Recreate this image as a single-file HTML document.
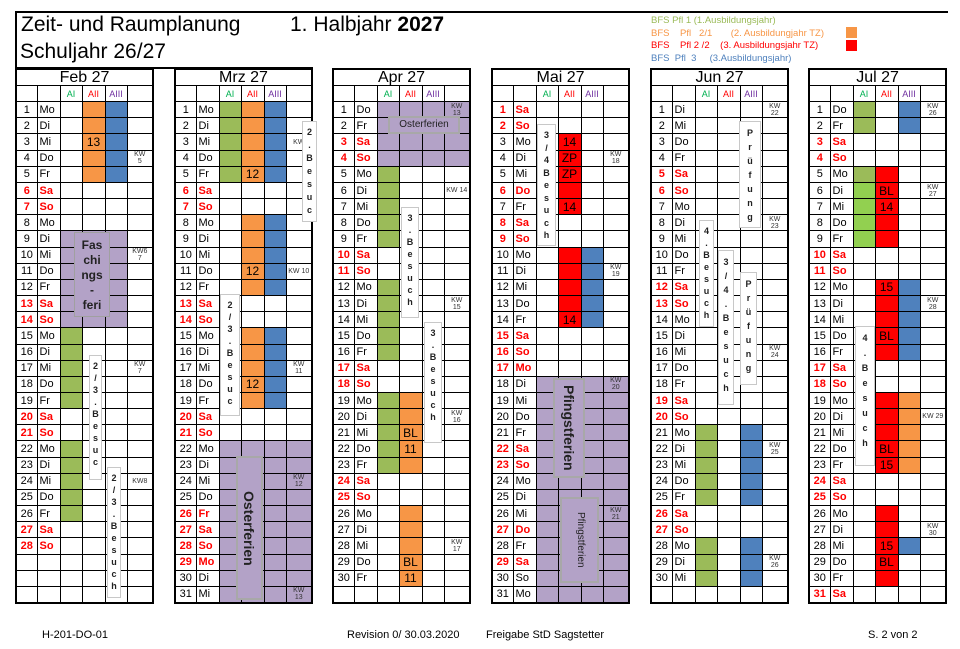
<!DOCTYPE html>
<html><head><meta charset="utf-8">
<style>
body{margin:0;width:960px;height:649px;background:#fff;position:relative;overflow:hidden;font-family:"Liberation Sans",sans-serif}
.a{position:absolute}
table{position:absolute;top:68px;border-collapse:collapse;table-layout:fixed;width:137px;font:11px "Liberation Sans",sans-serif;border:2px solid #000}
td{border:1px solid #000;padding:0;height:15px;line-height:12px;overflow:hidden;white-space:nowrap;text-align:center}
tr{height:16.16px}
td:nth-child(2){text-align:left;padding-left:2px}
tr.h td{font-size:16px;line-height:15px;text-align:center;padding:0}
tr.s td{font-size:9px;height:15px}
.ga{color:#00b050}.ra{color:#ff0000}.pa{color:#7030a0}
tr.w td{color:#ff0000;font-weight:bold}
.g{background:#9bbb59}.gl{background:#92d050}.o{background:#f79646}.b{background:#4f81bd}.r{background:#ff0000}.p{background:#b3a2c7}
td.o,td.r{font-size:12px;color:#000}
.k{font-size:7px;line-height:7px;color:#333}
.v{position:absolute;background:#fff;border:1px solid #c8c8c8;font:bold 9px "Liberation Sans",sans-serif;text-align:center;padding-top:4px;box-sizing:border-box;color:#222}
.rot{position:absolute;background:#b3a2c7;border:2px solid #a8a8a8;writing-mode:vertical-rl;text-align:center;font:bold 14px "Liberation Sans",sans-serif;color:#222;box-sizing:border-box;line-height:24px}
</style></head><body>
<div class="a" style="left:15px;top:11px;width:933px;height:2px;background:#000"></div>
<div class="a" style="left:15px;top:11px;width:2px;height:58px;background:#000"></div>
<div class="a" style="left:15px;top:67px;width:298px;height:2px;background:#000"></div>
<div class="a" style="left:21px;top:13px;font-size:21px">Zeit- und Raumplanung</div>
<div class="a" style="left:290px;top:13px;font-size:21px">1. Halbjahr <b>2027</b></div>
<div class="a" style="left:20px;top:40px;font-size:21px">Schuljahr 26/27</div>
<div class="a" style="left:651px;top:15px;font-size:9.5px;line-height:12.7px;white-space:pre"><span style="color:#9bbb59">BFS Pfl 1 (1.Ausbildungsjahr)</span>
<span style="color:#f79646">BFS    Pfl   2/1       (2. Ausbildungjahr TZ)</span>
<span style="color:#ff0000">BFS    Pfl 2 /2    (3. Ausbildungsjahr TZ)</span>
<span style="color:#4f81bd">BFS  Pfl  3     (3.Ausbildungsjahr)</span></div>
<div class="a" style="left:846px;top:27px;width:11px;height:11px;background:#f79646"></div>
<div class="a" style="left:846px;top:40px;width:11px;height:11px;background:#ff0000"></div>

<!-- FEB -->
<table style="left:15px"><colgroup><col style="width:21px"><col style="width:23px"><col style="width:22px"><col style="width:23px"><col style="width:22px"><col style="width:26px"></colgroup>
<tr class="h"><td colspan="6">Feb 27</td></tr>
<tr class="s"><td></td><td></td><td class="ga">AI</td><td class="ra">AII</td><td class="pa">AIII</td><td></td></tr>
<tr><td>1</td><td>Mo</td><td></td><td class="o"></td><td class="b"></td><td></td></tr>
<tr><td>2</td><td>Di</td><td></td><td class="o"></td><td class="b"></td><td></td></tr>
<tr><td>3</td><td>Mi</td><td></td><td class="o">13</td><td class="b"></td><td></td></tr>
<tr><td>4</td><td>Do</td><td></td><td class="o"></td><td class="b"></td><td class="k">KW<br>5</td></tr>
<tr><td>5</td><td>Fr</td><td></td><td class="o"></td><td class="b"></td><td></td></tr>
<tr class="w"><td>6</td><td>Sa</td><td></td><td></td><td></td><td></td></tr>
<tr class="w"><td>7</td><td>So</td><td></td><td></td><td></td><td></td></tr>
<tr><td>8</td><td>Mo</td><td></td><td></td><td></td><td></td></tr>
<tr><td>9</td><td>Di</td><td class="p"></td><td class="p"></td><td class="p"></td><td></td></tr>
<tr><td>10</td><td>Mi</td><td class="p"></td><td class="p"></td><td class="p"></td><td class="k">KW6<br>7</td></tr>
<tr><td>11</td><td>Do</td><td class="p"></td><td class="p"></td><td class="p"></td><td></td></tr>
<tr><td>12</td><td>Fr</td><td class="p"></td><td class="p"></td><td class="p"></td><td></td></tr>
<tr class="w"><td>13</td><td>Sa</td><td class="p"></td><td class="p"></td><td class="p"></td><td></td></tr>
<tr class="w"><td>14</td><td>So</td><td class="p"></td><td class="p"></td><td class="p"></td><td></td></tr>
<tr><td>15</td><td>Mo</td><td class="g"></td><td></td><td></td><td></td></tr>
<tr><td>16</td><td>Di</td><td class="g"></td><td></td><td></td><td></td></tr>
<tr><td>17</td><td>Mi</td><td class="g"></td><td></td><td></td><td class="k">KW<br>7</td></tr>
<tr><td>18</td><td>Do</td><td class="g"></td><td></td><td></td><td></td></tr>
<tr><td>19</td><td>Fr</td><td class="g"></td><td></td><td></td><td></td></tr>
<tr class="w"><td>20</td><td>Sa</td><td></td><td></td><td></td><td></td></tr>
<tr class="w"><td>21</td><td>So</td><td></td><td></td><td></td><td></td></tr>
<tr><td>22</td><td>Mo</td><td class="g"></td><td></td><td></td><td></td></tr>
<tr><td>23</td><td>Di</td><td class="g"></td><td></td><td></td><td></td></tr>
<tr><td>24</td><td>Mi</td><td class="g"></td><td></td><td></td><td class="k">KW8</td></tr>
<tr><td>25</td><td>Do</td><td class="g"></td><td></td><td></td><td></td></tr>
<tr><td>26</td><td>Fr</td><td class="g"></td><td></td><td></td><td></td></tr>
<tr class="w"><td>27</td><td>Sa</td><td></td><td></td><td></td><td></td></tr>
<tr class="w"><td>28</td><td>So</td><td></td><td></td><td></td><td></td></tr>
<tr><td></td><td></td><td></td><td></td><td></td><td></td></tr>
<tr><td></td><td></td><td></td><td></td><td></td><td></td></tr>
<tr><td></td><td></td><td></td><td></td><td></td><td></td></tr>
</table>

<!-- MRZ -->
<table style="left:174px"><colgroup><col style="width:21px"><col style="width:23px"><col style="width:22px"><col style="width:23px"><col style="width:22px"><col style="width:26px"></colgroup>
<tr class="h"><td colspan="6">Mrz 27</td></tr>
<tr class="s"><td></td><td></td><td class="ga">AI</td><td class="ra">AII</td><td class="pa">AIII</td><td></td></tr>
<tr><td>1</td><td>Mo</td><td class="g"></td><td class="o"></td><td class="b"></td><td></td></tr>
<tr><td>2</td><td>Di</td><td class="g"></td><td class="o"></td><td class="b"></td><td></td></tr>
<tr><td>3</td><td>Mi</td><td class="g"></td><td class="o"></td><td class="b"></td><td class="k">KW</td></tr>
<tr><td>4</td><td>Do</td><td class="g"></td><td class="o"></td><td class="b"></td><td></td></tr>
<tr><td>5</td><td>Fr</td><td class="g"></td><td class="o">12</td><td class="b"></td><td></td></tr>
<tr class="w"><td>6</td><td>Sa</td><td></td><td></td><td></td><td></td></tr>
<tr class="w"><td>7</td><td>So</td><td></td><td></td><td></td><td></td></tr>
<tr><td>8</td><td>Mo</td><td></td><td class="o"></td><td class="b"></td><td></td></tr>
<tr><td>9</td><td>Di</td><td></td><td class="o"></td><td class="b"></td><td></td></tr>
<tr><td>10</td><td>Mi</td><td></td><td class="o"></td><td class="b"></td><td></td></tr>
<tr><td>11</td><td>Do</td><td></td><td class="o">12</td><td class="b"></td><td class="k">KW 10</td></tr>
<tr><td>12</td><td>Fr</td><td></td><td class="o"></td><td class="b"></td><td></td></tr>
<tr class="w"><td>13</td><td>Sa</td><td></td><td></td><td></td><td></td></tr>
<tr class="w"><td>14</td><td>So</td><td></td><td></td><td></td><td></td></tr>
<tr><td>15</td><td>Mo</td><td></td><td class="o"></td><td class="b"></td><td></td></tr>
<tr><td>16</td><td>Di</td><td></td><td class="o"></td><td class="b"></td><td></td></tr>
<tr><td>17</td><td>Mi</td><td></td><td class="o"></td><td class="b"></td><td class="k">KW<br>11</td></tr>
<tr><td>18</td><td>Do</td><td></td><td class="o">12</td><td class="b"></td><td></td></tr>
<tr><td>19</td><td>Fr</td><td></td><td class="o"></td><td class="b"></td><td></td></tr>
<tr class="w"><td>20</td><td>Sa</td><td></td><td></td><td></td><td></td></tr>
<tr class="w"><td>21</td><td>So</td><td></td><td></td><td></td><td></td></tr>
<tr><td>22</td><td>Mo</td><td class="p"></td><td class="p"></td><td class="p"></td><td class="p"></td></tr>
<tr><td>23</td><td>Di</td><td class="p"></td><td class="p"></td><td class="p"></td><td class="p"></td></tr>
<tr><td>24</td><td>Mi</td><td class="p"></td><td class="p"></td><td class="p"></td><td class="p k">KW<br>12</td></tr>
<tr><td>25</td><td>Do</td><td class="p"></td><td class="p"></td><td class="p"></td><td class="p"></td></tr>
<tr class="w"><td>26</td><td>Fr</td><td class="p"></td><td class="p"></td><td class="p"></td><td class="p"></td></tr>
<tr class="w"><td>27</td><td>Sa</td><td class="p"></td><td class="p"></td><td class="p"></td><td class="p"></td></tr>
<tr class="w"><td>28</td><td>So</td><td class="p"></td><td class="p"></td><td class="p"></td><td class="p"></td></tr>
<tr class="w"><td>29</td><td>Mo</td><td class="p"></td><td class="p"></td><td class="p"></td><td class="p"></td></tr>
<tr><td>30</td><td>Di</td><td class="p"></td><td class="p"></td><td class="p"></td><td class="p"></td></tr>
<tr><td>31</td><td>Mi</td><td class="p"></td><td class="p"></td><td class="p"></td><td class="p k">KW<br>13</td></tr>
</table>

<!-- APR -->
<table style="left:332px"><colgroup><col style="width:21px"><col style="width:23px"><col style="width:22px"><col style="width:23px"><col style="width:22px"><col style="width:26px"></colgroup>
<tr class="h"><td colspan="6">Apr 27</td></tr>
<tr class="s"><td></td><td></td><td class="ga">AI</td><td class="ra">AII</td><td class="pa">AIII</td><td></td></tr>
<tr><td>1</td><td>Do</td><td class="p"></td><td class="p"></td><td class="p"></td><td class="p k">KW<br>13</td></tr>
<tr><td>2</td><td>Fr</td><td class="p"></td><td class="p"></td><td class="p"></td><td class="p"></td></tr>
<tr class="w"><td>3</td><td>Sa</td><td class="p"></td><td class="p"></td><td class="p"></td><td class="p"></td></tr>
<tr class="w"><td>4</td><td>So</td><td class="p"></td><td class="p"></td><td class="p"></td><td class="p"></td></tr>
<tr><td>5</td><td>Mo</td><td class="g"></td><td></td><td></td><td></td></tr>
<tr><td>6</td><td>Di</td><td class="g"></td><td></td><td></td><td class="k">KW 14</td></tr>
<tr><td>7</td><td>Mi</td><td class="g"></td><td></td><td></td><td></td></tr>
<tr><td>8</td><td>Do</td><td class="g"></td><td></td><td></td><td></td></tr>
<tr><td>9</td><td>Fr</td><td class="g"></td><td></td><td></td><td></td></tr>
<tr class="w"><td>10</td><td>Sa</td><td></td><td></td><td></td><td></td></tr>
<tr class="w"><td>11</td><td>So</td><td></td><td></td><td></td><td></td></tr>
<tr><td>12</td><td>Mo</td><td class="g"></td><td></td><td></td><td></td></tr>
<tr><td>13</td><td>Di</td><td class="g"></td><td></td><td></td><td class="k">KW<br>15</td></tr>
<tr><td>14</td><td>Mi</td><td class="g"></td><td></td><td></td><td></td></tr>
<tr><td>15</td><td>Do</td><td class="g"></td><td></td><td></td><td></td></tr>
<tr><td>16</td><td>Fr</td><td class="g"></td><td></td><td></td><td></td></tr>
<tr class="w"><td>17</td><td>Sa</td><td></td><td></td><td></td><td></td></tr>
<tr class="w"><td>18</td><td>So</td><td></td><td></td><td></td><td></td></tr>
<tr><td>19</td><td>Mo</td><td class="g"></td><td class="o"></td><td></td><td></td></tr>
<tr><td>20</td><td>Di</td><td class="g"></td><td class="o"></td><td></td><td class="k">KW<br>16</td></tr>
<tr><td>21</td><td>Mi</td><td class="g"></td><td class="o">BL</td><td></td><td></td></tr>
<tr><td>22</td><td>Do</td><td class="g"></td><td class="o">11</td><td></td><td></td></tr>
<tr><td>23</td><td>Fr</td><td class="g"></td><td class="o"></td><td></td><td></td></tr>
<tr class="w"><td>24</td><td>Sa</td><td></td><td></td><td></td><td></td></tr>
<tr class="w"><td>25</td><td>So</td><td></td><td></td><td></td><td></td></tr>
<tr><td>26</td><td>Mo</td><td></td><td class="o"></td><td></td><td></td></tr>
<tr><td>27</td><td>Di</td><td></td><td class="o"></td><td></td><td></td></tr>
<tr><td>28</td><td>Mi</td><td></td><td class="o"></td><td></td><td class="k">KW<br>17</td></tr>
<tr><td>29</td><td>Do</td><td></td><td class="o">BL</td><td></td><td></td></tr>
<tr><td>30</td><td>Fr</td><td></td><td class="o">11</td><td></td><td></td></tr>
<tr><td></td><td></td><td></td><td></td><td></td><td></td></tr>
</table>

<!-- MAI -->
<table style="left:491px"><colgroup><col style="width:21px"><col style="width:23px"><col style="width:22px"><col style="width:23px"><col style="width:22px"><col style="width:26px"></colgroup>
<tr class="h"><td colspan="6">Mai 27</td></tr>
<tr class="s"><td></td><td></td><td class="ga">AI</td><td class="ra">AII</td><td class="pa">AIII</td><td></td></tr>
<tr class="w"><td>1</td><td>Sa</td><td></td><td></td><td></td><td></td></tr>
<tr class="w"><td>2</td><td>So</td><td></td><td></td><td></td><td></td></tr>
<tr><td>3</td><td>Mo</td><td></td><td class="r">14</td><td></td><td></td></tr>
<tr><td>4</td><td>Di</td><td></td><td class="r">ZP</td><td></td><td class="k">KW<br>18</td></tr>
<tr><td>5</td><td>Mi</td><td></td><td class="r">ZP</td><td></td><td></td></tr>
<tr class="w"><td>6</td><td>Do</td><td></td><td class="r" style="font-weight:normal">ZP</td><td></td><td></td></tr>
<tr><td>7</td><td>Fr</td><td></td><td class="r">14</td><td></td><td></td></tr>
<tr class="w"><td>8</td><td>Sa</td><td></td><td></td><td></td><td></td></tr>
<tr class="w"><td>9</td><td>So</td><td></td><td></td><td></td><td></td></tr>
<tr><td>10</td><td>Mo</td><td></td><td class="r"></td><td class="b"></td><td></td></tr>
<tr><td>11</td><td>Di</td><td></td><td class="r"></td><td class="b"></td><td class="k">KW<br>19</td></tr>
<tr><td>12</td><td>Mi</td><td></td><td class="r"></td><td class="b"></td><td></td></tr>
<tr><td>13</td><td>Do</td><td></td><td class="r"></td><td class="b"></td><td></td></tr>
<tr><td>14</td><td>Fr</td><td></td><td class="r">14</td><td class="b"></td><td></td></tr>
<tr class="w"><td>15</td><td>Sa</td><td></td><td></td><td></td><td></td></tr>
<tr class="w"><td>16</td><td>So</td><td></td><td></td><td></td><td></td></tr>
<tr class="w"><td>17</td><td>Mo</td><td></td><td></td><td></td><td></td></tr>
<tr><td>18</td><td>Di</td><td class="p"></td><td class="p"></td><td class="p"></td><td class="p k">KW<br>20</td></tr>
<tr><td>19</td><td>Mi</td><td class="p"></td><td class="p"></td><td class="p"></td><td class="p"></td></tr>
<tr><td>20</td><td>Do</td><td class="p"></td><td class="p"></td><td class="p"></td><td class="p"></td></tr>
<tr><td>21</td><td>Fr</td><td class="p"></td><td class="p"></td><td class="p"></td><td class="p"></td></tr>
<tr class="w"><td>22</td><td>Sa</td><td class="p"></td><td class="p"></td><td class="p"></td><td class="p"></td></tr>
<tr class="w"><td>23</td><td>So</td><td class="p"></td><td class="p"></td><td class="p"></td><td class="p"></td></tr>
<tr><td>24</td><td>Mo</td><td class="p"></td><td class="p"></td><td class="p"></td><td class="p"></td></tr>
<tr><td>25</td><td>Di</td><td class="p"></td><td class="p"></td><td class="p"></td><td class="p"></td></tr>
<tr><td>26</td><td>Mi</td><td class="p"></td><td class="p"></td><td class="p"></td><td class="p k">KW<br>21</td></tr>
<tr class="w"><td>27</td><td>Do</td><td class="p"></td><td class="p"></td><td class="p"></td><td class="p"></td></tr>
<tr><td>28</td><td>Fr</td><td class="p"></td><td class="p"></td><td class="p"></td><td class="p"></td></tr>
<tr class="w"><td>29</td><td>Sa</td><td class="p"></td><td class="p"></td><td class="p"></td><td class="p"></td></tr>
<tr><td>30</td><td>So</td><td class="p"></td><td class="p"></td><td class="p"></td><td class="p"></td></tr>
<tr><td>31</td><td>Mo</td><td class="p"></td><td class="p"></td><td class="p"></td><td class="p"></td></tr>
</table>

<!-- JUN -->
<table style="left:650px"><colgroup><col style="width:21px"><col style="width:23px"><col style="width:22px"><col style="width:23px"><col style="width:22px"><col style="width:26px"></colgroup>
<tr class="h"><td colspan="6">Jun 27</td></tr>
<tr class="s"><td></td><td></td><td class="ga">AI</td><td class="ra">AII</td><td class="pa">AIII</td><td></td></tr>
<tr><td>1</td><td>Di</td><td></td><td></td><td></td><td class="k">KW<br>22</td></tr>
<tr><td>2</td><td>Mi</td><td></td><td></td><td></td><td></td></tr>
<tr><td>3</td><td>Do</td><td></td><td></td><td></td><td></td></tr>
<tr><td>4</td><td>Fr</td><td></td><td></td><td></td><td></td></tr>
<tr class="w"><td>5</td><td>Sa</td><td></td><td></td><td></td><td></td></tr>
<tr class="w"><td>6</td><td>So</td><td></td><td></td><td></td><td></td></tr>
<tr><td>7</td><td>Mo</td><td></td><td></td><td></td><td></td></tr>
<tr><td>8</td><td>Di</td><td></td><td></td><td></td><td class="k">KW<br>23</td></tr>
<tr><td>9</td><td>Mi</td><td></td><td></td><td></td><td></td></tr>
<tr><td>10</td><td>Do</td><td></td><td></td><td></td><td></td></tr>
<tr><td>11</td><td>Fr</td><td></td><td></td><td></td><td></td></tr>
<tr class="w"><td>12</td><td>Sa</td><td></td><td></td><td></td><td></td></tr>
<tr class="w"><td>13</td><td>So</td><td></td><td></td><td></td><td></td></tr>
<tr><td>14</td><td>Mo</td><td></td><td></td><td></td><td></td></tr>
<tr><td>15</td><td>Di</td><td></td><td></td><td></td><td></td></tr>
<tr><td>16</td><td>Mi</td><td></td><td></td><td></td><td class="k">KW<br>24</td></tr>
<tr><td>17</td><td>Do</td><td></td><td></td><td></td><td></td></tr>
<tr><td>18</td><td>Fr</td><td></td><td></td><td></td><td></td></tr>
<tr class="w"><td>19</td><td>Sa</td><td></td><td></td><td></td><td></td></tr>
<tr class="w"><td>20</td><td>So</td><td></td><td></td><td></td><td></td></tr>
<tr><td>21</td><td>Mo</td><td class="g"></td><td></td><td class="b"></td><td></td></tr>
<tr><td>22</td><td>Di</td><td class="g"></td><td></td><td class="b"></td><td class="k">KW<br>25</td></tr>
<tr><td>23</td><td>Mi</td><td class="g"></td><td></td><td class="b"></td><td></td></tr>
<tr><td>24</td><td>Do</td><td class="g"></td><td></td><td class="b"></td><td></td></tr>
<tr><td>25</td><td>Fr</td><td class="g"></td><td></td><td class="b"></td><td></td></tr>
<tr class="w"><td>26</td><td>Sa</td><td></td><td></td><td></td><td></td></tr>
<tr class="w"><td>27</td><td>So</td><td></td><td></td><td></td><td></td></tr>
<tr><td>28</td><td>Mo</td><td class="g"></td><td></td><td class="b"></td><td></td></tr>
<tr><td>29</td><td>Di</td><td class="g"></td><td></td><td class="b"></td><td class="k">KW<br>26</td></tr>
<tr><td>30</td><td>Mi</td><td class="g"></td><td></td><td class="b"></td><td></td></tr>
<tr><td></td><td></td><td></td><td></td><td></td><td></td></tr>
</table>

<!-- JUL -->
<table style="left:808px"><colgroup><col style="width:21px"><col style="width:23px"><col style="width:22px"><col style="width:23px"><col style="width:22px"><col style="width:26px"></colgroup>
<tr class="h"><td colspan="6">Jul 27</td></tr>
<tr class="s"><td></td><td></td><td class="ga">AI</td><td class="ra">AII</td><td class="pa">AIII</td><td></td></tr>
<tr><td>1</td><td>Do</td><td class="g"></td><td></td><td class="b"></td><td class="k">KW<br>26</td></tr>
<tr><td>2</td><td>Fr</td><td class="g"></td><td></td><td class="b"></td><td></td></tr>
<tr class="w"><td>3</td><td>Sa</td><td></td><td></td><td></td><td></td></tr>
<tr class="w"><td>4</td><td>So</td><td></td><td></td><td></td><td></td></tr>
<tr><td>5</td><td>Mo</td><td class="g"></td><td class="r"></td><td></td><td></td></tr>
<tr><td>6</td><td>Di</td><td class="gl"></td><td class="r">BL</td><td></td><td class="k">KW<br>27</td></tr>
<tr><td>7</td><td>Mi</td><td class="gl"></td><td class="r">14</td><td></td><td></td></tr>
<tr><td>8</td><td>Do</td><td class="gl"></td><td class="r"></td><td></td><td></td></tr>
<tr><td>9</td><td>Fr</td><td class="gl"></td><td class="r"></td><td></td><td></td></tr>
<tr class="w"><td>10</td><td>Sa</td><td></td><td></td><td></td><td></td></tr>
<tr class="w"><td>11</td><td>So</td><td></td><td></td><td></td><td></td></tr>
<tr><td>12</td><td>Mo</td><td></td><td class="r">15</td><td class="b"></td><td></td></tr>
<tr><td>13</td><td>Di</td><td></td><td class="r"></td><td class="b"></td><td class="k">KW<br>28</td></tr>
<tr><td>14</td><td>Mi</td><td></td><td class="r"></td><td class="b"></td><td></td></tr>
<tr><td>15</td><td>Do</td><td></td><td class="r">BL</td><td class="b"></td><td></td></tr>
<tr><td>16</td><td>Fr</td><td></td><td class="r"></td><td class="b"></td><td></td></tr>
<tr class="w"><td>17</td><td>Sa</td><td></td><td></td><td></td><td></td></tr>
<tr class="w"><td>18</td><td>So</td><td></td><td></td><td></td><td></td></tr>
<tr><td>19</td><td>Mo</td><td></td><td class="r"></td><td class="o"></td><td></td></tr>
<tr><td>20</td><td>Di</td><td></td><td class="r"></td><td class="o"></td><td class="k">KW 29</td></tr>
<tr><td>21</td><td>Mi</td><td></td><td class="r"></td><td class="o"></td><td></td></tr>
<tr><td>22</td><td>Do</td><td></td><td class="r">BL</td><td class="o"></td><td></td></tr>
<tr><td>23</td><td>Fr</td><td></td><td class="r">15</td><td class="o"></td><td></td></tr>
<tr class="w"><td>24</td><td>Sa</td><td></td><td></td><td></td><td></td></tr>
<tr class="w"><td>25</td><td>So</td><td></td><td></td><td></td><td></td></tr>
<tr><td>26</td><td>Mo</td><td></td><td class="r"></td><td></td><td></td></tr>
<tr><td>27</td><td>Di</td><td></td><td class="r"></td><td></td><td class="k">KW<br>30</td></tr>
<tr><td>28</td><td>Mi</td><td></td><td class="r">15</td><td class="b"></td><td></td></tr>
<tr><td>29</td><td>Do</td><td></td><td class="r">BL</td><td></td><td></td></tr>
<tr><td>30</td><td>Fr</td><td></td><td class="r"></td><td></td><td></td></tr>
<tr class="w"><td>31</td><td>Sa</td><td></td><td></td><td></td><td></td></tr>
</table>

<!-- overlays -->
<div class="a" style="left:74px;top:232px;width:36px;height:85px;background:#b3a2c7;border:1px solid #a0a0a0;font:bold 12px 'Liberation Sans',sans-serif;text-align:center;line-height:15px;padding-top:5px;box-sizing:border-box;color:#222">Fas<br>chi<br>ngs<br>-<br>feri</div>
<div class="v" style="left:89px;top:355px;width:13px;height:125px;line-height:12px">2<br>/<br>3<br>.<br>B<br>e<br>s<br>u<br>c</div>
<div class="v" style="left:107px;top:467px;width:14px;height:131px;line-height:12px">2<br>/<br>3<br>.<br>B<br>e<br>s<br>u<br>c<br>h</div>
<div class="v" style="left:302px;top:121px;width:15px;height:101px;line-height:13px">2<br>.<br>B<br>e<br>s<br>u<br>c</div>
<div class="v" style="left:220px;top:294px;width:20px;height:122px;line-height:12px">2<br>/<br>3<br>.<br>B<br>e<br>s<br>u<br>c</div>
<div class="rot" style="left:236px;top:456px;width:27px;height:144px">Osterferien</div>
<div class="a" style="left:388px;top:116px;width:72px;height:18px;background:#b3a2c7;border:2px solid #a8a8a8;box-sizing:border-box;font-size:10px;text-align:center;line-height:14px;color:#222">Osterferien</div>
<div class="v" style="left:401px;top:207px;width:18px;height:111px;line-height:12px">3<br>.<br>B<br>e<br>s<br>u<br>c<br>h</div>
<div class="v" style="left:424px;top:322px;width:18px;height:121px;line-height:12px">3<br>.<br>B<br>e<br>s<br>u<br>c<br>h</div>
<div class="v" style="left:537px;top:124px;width:19px;height:122px;line-height:12.5px">3<br>/<br>4<br>B<br>e<br>s<br>u<br>c<br>h</div>
<div class="rot" style="left:553px;top:378px;width:32px;height:100px;line-height:28px">Pfingstferien</div>
<div class="rot" style="left:560px;top:497px;width:39px;height:86px;font:10px 'Liberation Sans',sans-serif;line-height:34px">Pfingstferien</div>
<div class="v" style="left:739px;top:121px;width:22px;height:107px;line-height:14px">P<br>r<br>ü<br>f<br>u<br>n<br>g</div>
<div class="v" style="left:699px;top:220px;width:15px;height:107px;line-height:12px">4<br>.<br>B<br>e<br>s<br>u<br>c<br>h</div>
<div class="v" style="left:718px;top:250px;width:16px;height:155px;line-height:14px">3<br>/<br>4<br>.<br>B<br>e<br>s<br>u<br>c<br>h</div>
<div class="v" style="left:740px;top:272px;width:17px;height:113px;line-height:14px">P<br>r<br>ü<br>f<br>u<br>n<br>g</div>
<div class="v" style="left:855px;top:326px;width:20px;height:140px;line-height:15px">4<br>.<br>B<br>e<br>s<br>u<br>c<br>h</div>

<div class="a" style="left:42px;top:629px;font-size:11px">H-201-DO-01</div>
<div class="a" style="left:347px;top:629px;font-size:11px">Revision 0/ 30.03.2020</div>
<div class="a" style="left:486px;top:629px;font-size:11px">Freigabe StD Sagstetter</div>
<div class="a" style="left:868px;top:629px;font-size:11px">S. 2 von 2</div>
</body></html>
